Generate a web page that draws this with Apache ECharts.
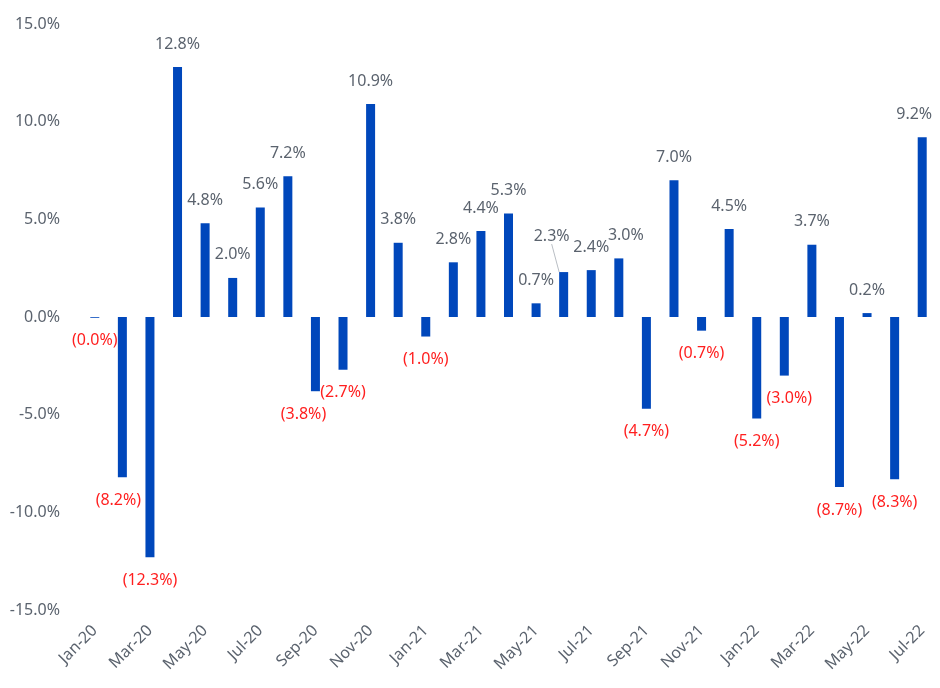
<!DOCTYPE html>
<html>
<head>
<meta charset="utf-8">
<script src="https://cdn.jsdelivr.net/npm/echarts@6/dist/echarts.min.js"></script>
<style>
    html, body { margin: 0; padding: 0; background: #fff; }
    #container { width: 940px; height: 688px; }
</style>
</head>
<body>
<div id="container"></div>
<script>
let months = ['Jan-20','Feb-20','Mar-20','Apr-20','May-20','Jun-20','Jul-20','Aug-20','Sep-20','Oct-20','Nov-20','Dec-20',
              'Jan-21','Feb-21','Mar-21','Apr-21','May-21','Jun-21','Jul-21','Aug-21','Sep-21','Oct-21','Nov-21','Dec-21',
              'Jan-22','Feb-22','Mar-22','Apr-22','May-22','Jun-22','Jul-22'];
let changes = [-0.04, -8.2, -12.3, 12.8, 4.8, 2.0, 5.6, 7.2, -3.8, -2.7, 10.9, 3.8,
               -1.0, 2.8, 4.4, 5.3, 0.7, 2.3, 2.4, 3.0, -4.7, 7.0, -0.7, 4.5,
               -5.2, -3.0, 3.7, -8.7, 0.2, -8.3, 9.2];
let yTicks = [-15, -10, -5, 0, 5, 10, 15];

// small nudges so labels sit where the original puts them
let labelShift = {1: [-4, 0], 8: [-12, 0], 17: [-12, -13], 19: [7, 0], 25: [5, 0], 30: [-8, 0]};

const fontName = '"Noto Sans", sans-serif';
const grayText = '#5b636e';

const dom = document.getElementById('container');
const myChart = echarts.init(dom);

const barData = changes.map(function (v, i) {
    const item = {
        value: v,
        label: {
            position: v < 0 ? 'bottom' : 'top',
            color: v < 0 ? '#ff1f1f' : grayText
        }
    };
    if (i === 17) {
        item.labelLine = { show: true, lineStyle: { color: '#b9bec4', width: 1 } };
    }
    return item;
});

const option = {
    animation: false,
    grid: {
        left: 81,
        right: 4,
        top: 24,
        bottom: 78,
        containLabel: false
    },
    xAxis: {
        type: 'category',
        data: months,
        axisLine: { show: false, onZero: false },
        axisTick: { show: false },
        axisLabel: {
            interval: 1,
            rotate: 45,
            margin: 18,
            color: grayText,
            fontFamily: fontName,
            fontSize: 16
        }
    },
    yAxis: {
        type: 'value',
        min: yTicks[0],
        max: yTicks[yTicks.length - 1],
        interval: 5,
        splitLine: { show: false },
        axisLine: { show: false },
        axisTick: { show: false },
        axisLabel: {
            margin: 21,
            color: grayText,
            fontFamily: fontName,
            fontSize: 16,
            formatter: function (v) {
                return v.toFixed(1) + '%';
            }
        }
    },
    series: [{
        type: 'bar',
        data: barData,
        barWidth: 9,
        itemStyle: { color: '#0047bb' },
        label: {
            show: true,
            distance: 15,
            fontFamily: fontName,
            fontSize: 16,
            formatter: function (p) {
                const v = p.value;
                if (v < 0) {
                    return '(' + Math.abs(v).toFixed(1) + '%)';
                }
                return v.toFixed(1) + '%';
            }
        },
        labelLayout: function (params) {
            const s = labelShift[params.dataIndex];
            if (!s) {
                return {};
            }
            return { dx: s[0], dy: s[1] };
        }
    }]
};

myChart.setOption(option, true);
</script>
</body>
</html>
